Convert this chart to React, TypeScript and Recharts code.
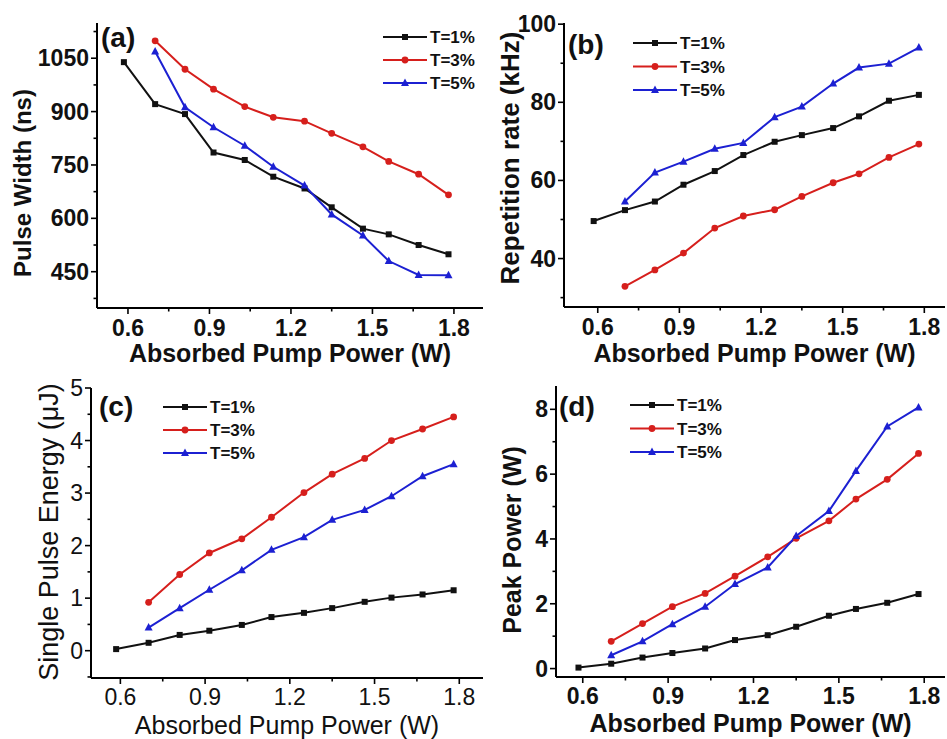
import React from "react";
import { LineChart, Line, XAxis, YAxis, Legend } from "recharts";

// absorbed pump power (W); T=1% has one extra low-power point
const POWER_T1 = [0.585, 0.7, 0.81, 0.915, 1.03, 1.135, 1.25, 1.35, 1.465, 1.56, 1.67, 1.78];
const POWER_T35 = [0.7, 0.81, 0.915, 1.03, 1.135, 1.25, 1.35, 1.465, 1.56, 1.67, 1.78];

// (a) pulse width, ns
const WIDTH_T1 = [1039, 921, 893, 785, 764, 717, 684, 631, 571, 555, 525, 499];
const WIDTH_T3 = [1099, 1019, 963, 914, 884, 873, 839, 801, 760, 724, 666];
const WIDTH_T5 = [1069, 912, 856, 804, 745, 692, 611, 552, 480, 441, 440];

// (b) repetition rate, kHz
const REP_T1 = [49.6, 52.4, 54.6, 58.9, 62.4, 66.5, 69.9, 71.6, 73.4, 76.4, 80.4, 81.9];
const REP_T3 = [32.9, 37.1, 41.4, 47.8, 50.9, 52.5, 55.9, 59.4, 61.7, 65.9, 69.3];
const REP_T5 = [54.6, 62.0, 64.8, 68.1, 69.6, 76.2, 78.9, 84.8, 88.9, 89.9, 94.0];

// (c) single pulse energy, uJ
const ENERGY_T1 = [0.03, 0.15, 0.3, 0.38, 0.49, 0.64, 0.72, 0.81, 0.93, 1.01, 1.07, 1.15];
const ENERGY_T3 = [0.92, 1.45, 1.86, 2.13, 2.54, 3.01, 3.36, 3.66, 4.0, 4.22, 4.45];
const ENERGY_T5 = [0.44, 0.81, 1.16, 1.53, 1.92, 2.16, 2.49, 2.68, 2.94, 3.32, 3.55];

// (d) peak power, W
const PEAK_T1 = [0.03, 0.15, 0.34, 0.48, 0.62, 0.88, 1.03, 1.29, 1.63, 1.84, 2.03, 2.3];
const PEAK_T3 = [0.84, 1.39, 1.91, 2.32, 2.85, 3.45, 4.02, 4.56, 5.23, 5.84, 6.64];
const PEAK_T5 = [0.41, 0.84, 1.37, 1.91, 2.61, 3.12, 4.09, 4.86, 6.1, 7.47, 8.06];

const SERIES_NAMES = ["T=1%", "T=3%", "T=5%"];

const X_TICKS = [0.6, 0.75, 0.9, 1.05, 1.2, 1.35, 1.5, 1.65, 1.8];
const X_LABELS = [0.6, 0.9, 1.2, 1.5, 1.8];
const WIDTH_TICKS = [375, 450, 525, 600, 675, 750, 825, 900, 975, 1050, 1125];
const WIDTH_LABELS = [450, 600, 750, 900, 1050];
const REP_TICKS = [30, 40, 50, 60, 70, 80, 90, 100];
const REP_LABELS = [40, 60, 80, 100];
const ENERGY_TICKS = [-0.5, 0, 0.5, 1, 1.5, 2, 2.5, 3, 3.5, 4, 4.5, 5];
const ENERGY_LABELS = [0, 1, 2, 3, 4, 5];
const PEAK_TICKS = [0, 1, 2, 3, 4, 5, 6, 7, 8];
const PEAK_LABELS = [0, 2, 4, 6, 8];

const FONT = '"Liberation Sans", Arial, sans-serif';
const COLORS = ["#111111", "#d61f1c", "#1c20d2"];
const SHAPES = ["square", "circle", "triangle"];

type Pt = { x: number; y: number };
const toPoints = (xs: number[], ys: number[]): Pt[] => ys.map((y, i) => ({ x: xs[i], y }));

function Marker({ cx, cy, shape, color }: { cx: number; cy: number; shape: string; color: string }) {
  if (shape === "square") return <rect x={cx - 3} y={cy - 3} width={6} height={6} fill={color} />;
  if (shape === "circle") return <circle cx={cx} cy={cy} r={3.4} fill={color} />;
  return <polygon points={`${cx},${cy - 4.5} ${cx - 4},${cy + 3} ${cx + 4},${cy + 3}`} fill={color} />;
}

const isMajor = (v: number, labels: number[]) => labels.some((l) => Math.abs(l - v) < 1e-6);

interface PanelProps {
  letter: string;
  box: { left: number; top: number; width: number; height: number };
  plot: { left: number; top: number; right: number; bottom: number };
  xDomain: [number, number];
  yDomain: [number, number];
  yTicks: number[];
  yLabels: number[];
  yTitle: string;
  yTitleAt: { x: number; y: number; size: number };
  xTitle: { dy: number; size: number };
  xTickDy: number;
  series: number[][];
  bold: boolean;
  legendAt: { x: number; y: number; gap: number };
  letterAt: { x: number; y: number };
}

function Panel(p: PanelProps) {
  const { box, plot } = p;
  const weight = p.bold ? 700 : 400;
  const xs = [POWER_T1, POWER_T35, POWER_T35];
  const lx = (x: number) => x - box.left;
  const ly = (y: number) => y - box.top;

  const xTick = (props: any) => {
    const { x, y, payload } = props;
    const major = isMajor(payload.value, X_LABELS);
    return (
      <g>
        <line x1={x} x2={x} y1={y} y2={y + (major ? 6 : 3.5)} stroke="#000" strokeWidth={1.6} />
        {major && (
          <text x={x} y={y + p.xTickDy} textAnchor="middle" fontSize={23} fontWeight={weight} fontFamily={FONT} fill="#111">
            {payload.value.toFixed(1)}
          </text>
        )}
      </g>
    );
  };

  const yTick = (props: any) => {
    const { x, y, payload } = props;
    const major = isMajor(payload.value, p.yLabels);
    return (
      <g>
        <line x1={x} x2={x - (major ? 6 : 3.5)} y1={y} y2={y} stroke="#000" strokeWidth={1.6} />
        {major && (
          <text x={x - 8} y={y + 8} textAnchor="end" fontSize={23} fontWeight={weight} fontFamily={FONT} fill="#111">
            {String(payload.value)}
          </text>
        )}
      </g>
    );
  };

  const legendContent = () => (
    <svg width={120} height={3 * p.legendAt.gap + 4} style={{ overflow: "visible" }}>
      {SERIES_NAMES.map((name, i) => {
        const cy = 11 + i * p.legendAt.gap;
        return (
          <g key={name}>
            <line x1={0} x2={44} y1={cy} y2={cy} stroke={COLORS[i]} strokeWidth={2} />
            <Marker cx={22} cy={cy} shape={SHAPES[i]} color={COLORS[i]} />
            <text x={47} y={cy + 6} fontSize={17} fontWeight={700} fontFamily={FONT} fill="#111">
              {name}
            </text>
          </g>
        );
      })}
    </svg>
  );

  return (
    <div style={{ position: "absolute", left: box.left, top: box.top, width: box.width, height: box.height }}>
      <LineChart
        width={box.width}
        height={box.height}
        margin={{ top: plot.top - box.top, right: box.left + box.width - plot.right, left: 0, bottom: 0 }}
      >
        <XAxis
          xAxisId="bottom"
          dataKey="x"
          type="number"
          domain={p.xDomain}
          allowDataOverflow
          ticks={X_TICKS}
          interval={0}
          height={box.top + box.height - plot.bottom}
          tickSize={0}
          tickMargin={0}
          tickLine={false}
          tick={xTick}
          axisLine={{ stroke: "#000", strokeWidth: 2 }}
          label={{
            content: () => (
              <text
                x={lx((plot.left + plot.right) / 2)}
                y={ly(plot.bottom + p.xTitle.dy)}
                textAnchor="middle"
                fontSize={p.xTitle.size}
                fontWeight={weight}
                fontFamily={FONT}
                fill="#111"
              >
                Absorbed Pump Power (W)
              </text>
            ),
          }}
        />
        <XAxis xAxisId="top" orientation="top" type="number" domain={p.xDomain} height={0} tick={false} tickLine={false} axisLine={{ stroke: "#000", strokeWidth: 2 }} />
        <YAxis
          yAxisId="left"
          type="number"
          domain={p.yDomain}
          allowDataOverflow
          ticks={p.yTicks}
          interval={0}
          width={plot.left - box.left}
          tickSize={0}
          tickMargin={0}
          tickLine={false}
          tick={yTick}
          axisLine={{ stroke: "#000", strokeWidth: 2 }}
          label={{
            content: () => (
              <text
                x={lx(p.yTitleAt.x)}
                y={ly(p.yTitleAt.y)}
                transform={`rotate(-90 ${lx(p.yTitleAt.x)} ${ly(p.yTitleAt.y)})`}
                textAnchor="middle"
                fontSize={p.yTitleAt.size}
                fontWeight={weight}
                fontFamily={FONT}
                fill="#111"
              >
                {p.yTitle}
              </text>
            ),
          }}
        />
        <YAxis yAxisId="right" orientation="right" type="number" domain={p.yDomain} width={0} tick={false} tickLine={false} axisLine={{ stroke: "#000", strokeWidth: 2 }} />
        <Legend
          layout="vertical"
          align="center"
          verticalAlign="middle"
          content={legendContent}
          wrapperStyle={{ left: lx(p.legendAt.x), top: ly(p.legendAt.y), width: 120 }}
        />
        {p.series.map((ys, i) => (
          <Line
            key={SERIES_NAMES[i]}
            xAxisId="bottom"
            yAxisId="left"
            data={toPoints(xs[i], ys)}
            dataKey="y"
            name={SERIES_NAMES[i]}
            stroke={COLORS[i]}
            strokeWidth={2}
            isAnimationActive={false}
            dot={(d: any) => <Marker key={`${i}-${d.index}`} cx={d.cx} cy={d.cy} shape={SHAPES[i]} color={COLORS[i]} />}
            activeDot={false}
          />
        ))}
      </LineChart>
      <div
        style={{
          position: "absolute",
          left: lx(p.letterAt.x),
          top: ly(p.letterAt.y) - 15,
          fontSize: 28,
          lineHeight: "30px",
          fontWeight: 700,
          fontFamily: FONT,
          color: "#111",
        }}
      >
        {p.letter}
      </div>
    </div>
  );
}

export default function App() {
  return (
    <div style={{ position: "absolute", left: 0, top: 0, width: 947, height: 739, background: "#fff", overflow: "hidden" }}>
      <Panel
        letter="(a)"
        box={{ left: 0, top: 0, width: 490, height: 370 }}
        plot={{ left: 97, top: 23, right: 483, bottom: 308 }}
        xDomain={[0.486, 1.907]}
        yDomain={[348, 1149]}
        yTicks={WIDTH_TICKS}
        yLabels={WIDTH_LABELS}
        yTitle="Pulse Width (ns)"
        yTitleAt={{ x: 31, y: 183, size: 24 }}
        xTitle={{ dy: 54, size: 25 }}
        xTickDy={28}
        series={[WIDTH_T1, WIDTH_T3, WIDTH_T5]}
        bold
        legendAt={{ x: 383, y: 26, gap: 23 }}
        letterAt={{ x: 101, y: 38 }}
      />
      <Panel
        letter="(b)"
        box={{ left: 490, top: 0, width: 457, height: 370 }}
        plot={{ left: 564, top: 23, right: 945, bottom: 307 }}
        xDomain={[0.476, 1.876]}
        yDomain={[27.6, 100.3]}
        yTicks={REP_TICKS}
        yLabels={REP_LABELS}
        yTitle="Repetition rate (kHz)"
        yTitleAt={{ x: 519, y: 158, size: 26 }}
        xTitle={{ dy: 55, size: 25 }}
        xTickDy={28}
        series={[REP_T1, REP_T3, REP_T5]}
        bold
        legendAt={{ x: 633, y: 32, gap: 23.5 }}
        letterAt={{ x: 568, y: 45 }}
      />
      <Panel
        letter="(c)"
        box={{ left: 0, top: 370, width: 490, height: 369 }}
        plot={{ left: 91, top: 388, right: 483, bottom: 678 }}
        xDomain={[0.496, 1.884]}
        yDomain={[-0.52, 5]}
        yTicks={ENERGY_TICKS}
        yLabels={ENERGY_LABELS}
        yTitle="Single Pulse Energy (μJ)"
        yTitleAt={{ x: 58, y: 532, size: 27 }}
        xTitle={{ dy: 55.5, size: 25 }}
        xTickDy={27}
        series={[ENERGY_T1, ENERGY_T3, ENERGY_T5]}
        bold={false}
        legendAt={{ x: 163, y: 396, gap: 23 }}
        letterAt={{ x: 99, y: 407 }}
      />
      <Panel
        letter="(d)"
        box={{ left: 490, top: 370, width: 457, height: 369 }}
        plot={{ left: 556, top: 386, right: 945, bottom: 677 }}
        xDomain={[0.506, 1.873]}
        yDomain={[-0.26, 8.72]}
        yTicks={PEAK_TICKS}
        yLabels={PEAK_LABELS}
        yTitle="Peak Power (W)"
        yTitleAt={{ x: 521, y: 540, size: 25 }}
        xTitle={{ dy: 55, size: 25 }}
        xTickDy={27}
        series={[PEAK_T1, PEAK_T3, PEAK_T5]}
        bold
        legendAt={{ x: 630, y: 394, gap: 23.5 }}
        letterAt={{ x: 559, y: 407 }}
      />
    </div>
  );
}
